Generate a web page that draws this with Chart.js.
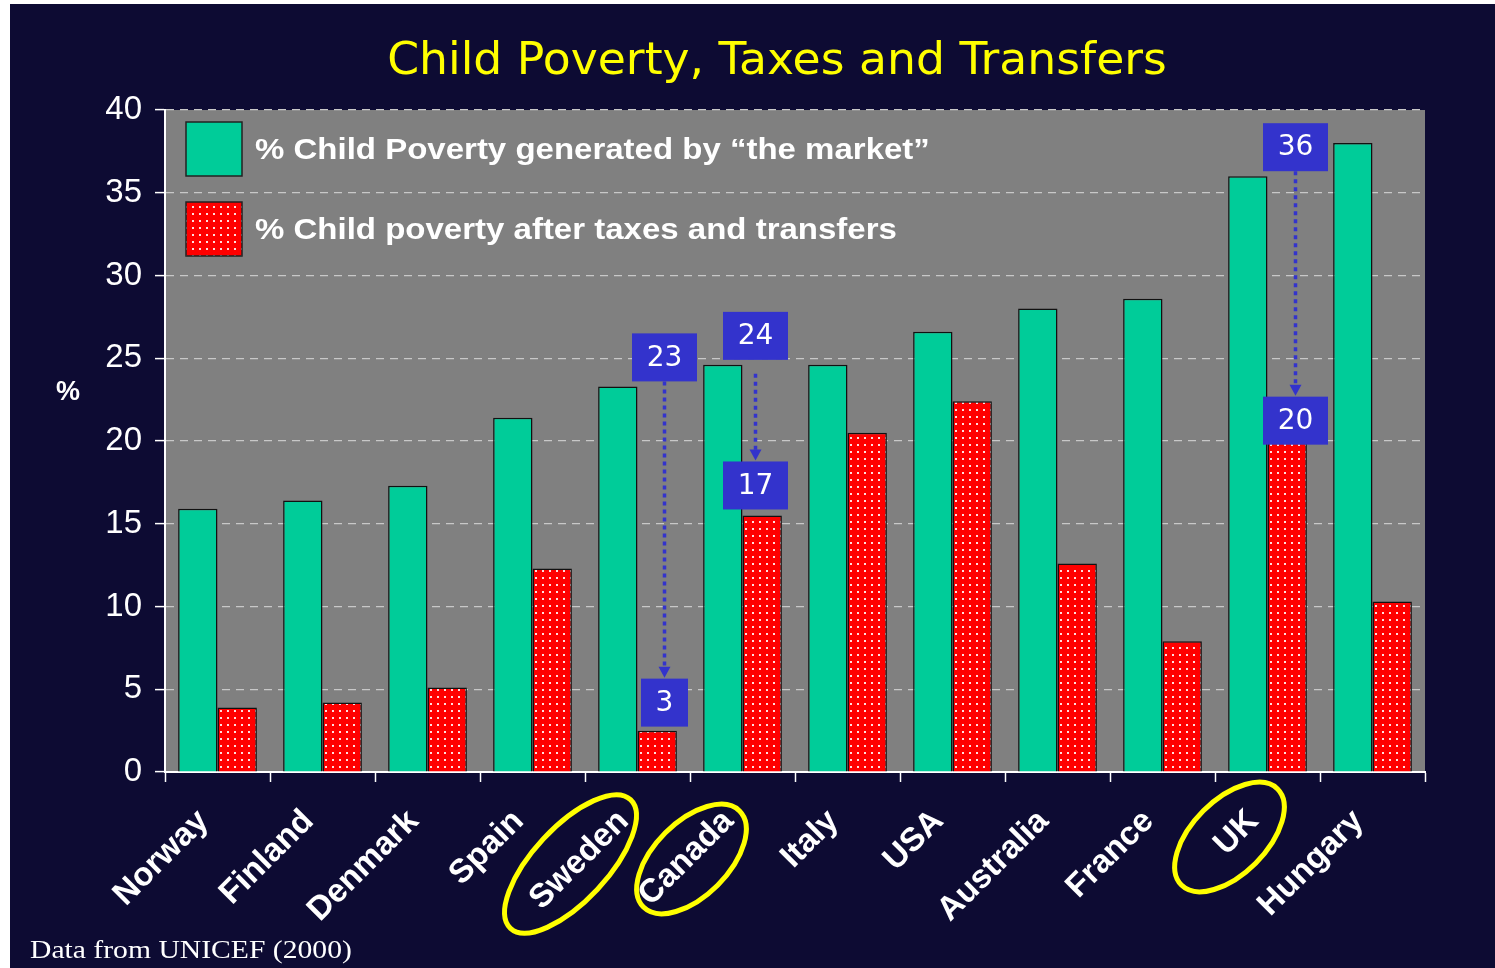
<!DOCTYPE html>
<html>
<head>
<meta charset="utf-8">
<script src="https://cdn.jsdelivr.net/npm/chart.js@4.4.0/dist/chart.umd.min.js"></script>
<style>
  html, body { margin: 0; padding: 0; background: #fff; }
</style>
</head>
<body>
<canvas id="povertyChart" width="1495" height="968"></canvas>
<script>
const countries = ['Norway', 'Finland', 'Denmark', 'Spain', 'Sweden', 'Canada', 'Italy', 'USA', 'Australia', 'France', 'UK', 'Hungary'];
const marketPoverty = [15.9, 16.4, 17.3, 21.4, 23.3, 24.6, 24.6, 26.6, 28.0, 28.6, 36.0, 38.0];
const afterTaxPoverty = [3.9, 4.2, 5.1, 12.3, 2.5, 15.5, 20.5, 22.4, 12.6, 7.9, 19.9, 10.3];
const yTicks = [0, 5, 10, 15, 20, 25, 30, 35, 40];

// blue callouts (before -> after) and circled names
const calloutCountries = ['Sweden', 'Canada', 'UK'];
const calloutBefore = ['23', '24', '36'];
const calloutAfter = ['3', '17', '20'];
const circledCountries = ['Sweden', 'Canada', 'UK'];

const BG = '#0d0b33';
const GREEN = '#00cc99';
const BLUE = '#3333cc';
const STRETCH = 1.14; // slide text is a bit wider than the fonts we have

// red fill with little white dots
function dottedRed() {
    const c = document.createElement('canvas');
    c.width = 7;
    c.height = 7;
    const g = c.getContext('2d');
    g.fillStyle = '#ff0000';
    g.fillRect(0, 0, 7, 7);
    g.fillStyle = 'rgba(255,235,235,0.95)';
    g.fillRect(3, 3, 2, 2);
    return g.createPattern(c, 'repeat');
}
const redPattern = dottedRed();

function wideText(ctx, txt, x, y, sx) {
    ctx.save();
    ctx.translate(x, y);
    ctx.scale(sx, 1);
    ctx.fillText(txt, 0, 0);
    ctx.restore();
}

const backdrop = {
    id: 'backdrop',
    beforeDraw(chart) {
        const { ctx, chartArea: a } = chart;
        ctx.save();
        ctx.fillStyle = '#fff';
        ctx.fillRect(0, 0, chart.width, chart.height);
        ctx.fillStyle = BG;
        ctx.fillRect(10, 4, chart.width - 10, chart.height - 4);
        ctx.fillStyle = '#808080';
        ctx.fillRect(a.left, a.top, a.right - a.left, a.bottom - a.top);

        ctx.fillStyle = '#ffff00';
        ctx.font = '44px "DejaVu Sans"';
        ctx.textAlign = 'center';
        ctx.textBaseline = 'middle';
        wideText(ctx, 'Child Poverty, Taxes and Transfers', 777, 63, 1.038);

        ctx.fillStyle = '#fff';
        ctx.font = 'bold 27px "Liberation Sans"';
        ctx.fillText('%', 68, 393);

        ctx.font = '26px "Liberation Serif"';
        ctx.textAlign = 'left';
        ctx.textBaseline = 'alphabetic';
        wideText(ctx, 'Data from UNICEF (2000)', 30, 958, STRETCH);
        ctx.restore();
    }
};

const boxLegend = {
    id: 'boxLegend',
    afterDraw(chart) {
        const { ctx, chartArea: a } = chart;
        ctx.save();
        chart.data.datasets.forEach((ds, i) => {
            const x = a.left + 21, y = a.top + 12 + i * 80;
            ctx.fillStyle = ds.backgroundColor;
            ctx.fillRect(x, y, 56, 54);
            ctx.strokeStyle = '#222';
            ctx.lineWidth = 1.5;
            ctx.strokeRect(x, y, 56, 54);
            ctx.fillStyle = '#fff';
            ctx.font = 'bold 30px "Liberation Sans"';
            ctx.textAlign = 'left';
            ctx.textBaseline = 'middle';
            wideText(ctx, ds.label, x + 69, y + 29, 1.10);
        });
        ctx.restore();
    }
};

const callouts = {
    id: 'callouts',
    afterDatasetsDraw(chart) {
        const { ctx } = chart;
        const xs = chart.scales.x, ys = chart.scales.y;
        const dx = { Sweden: 27, Canada: 13, UK: 28 };
        const gap = { Sweden: 0, Canada: 14, UK: 0 };
        const lift = { Sweden: 4, Canada: 6, UK: -2 };
        ctx.save();
        calloutCountries.forEach((name, k) => {
            const i = countries.indexOf(name);
            const cx = xs.getPixelForValue(i) + dx[name];
            const topBottom = ys.getPixelForValue(marketPoverty[i]) - 5;
            const lowBottom = ys.getPixelForValue(afterTaxPoverty[i]) - lift[name];
            const h = 48;
            const box = (txt, bottom) => {
                const w = txt.length > 1 ? 65 : 47;
                ctx.fillStyle = BLUE;
                ctx.fillRect(cx - w / 2, bottom - h, w, h);
                ctx.fillStyle = '#fff';
                ctx.font = '28px "DejaVu Sans"';
                ctx.textAlign = 'center';
                ctx.textBaseline = 'middle';
                ctx.fillText(txt, cx, bottom - h / 2 + 1);
            };
            // dotted arrow
            const y0 = topBottom + gap[name];
            const tip = lowBottom - h - 1;
            ctx.strokeStyle = BLUE;
            ctx.lineWidth = 3.5;
            ctx.setLineDash([4, 4]);
            ctx.beginPath();
            ctx.moveTo(cx, y0);
            ctx.lineTo(cx, tip - 10);
            ctx.stroke();
            ctx.setLineDash([]);
            ctx.fillStyle = BLUE;
            ctx.beginPath();
            ctx.moveTo(cx - 6, tip - 11);
            ctx.lineTo(cx + 6, tip - 11);
            ctx.lineTo(cx, tip);
            ctx.closePath();
            ctx.fill();

            box(calloutBefore[k], topBottom);
            box(calloutAfter[k], lowBottom);
        });
        ctx.restore();
    }
};

const rings = {
    id: 'rings',
    afterDraw(chart) {
        const { ctx, chartArea: a } = chart;
        const xs = chart.scales.x;
        const spec = {
            Sweden: { dx: -67, dy: 92, rx: 88, ry: 37, rot: 47 },
            Canada: { dx: -51, dy: 87, rx: 68, ry: 37, rot: 45 },
            UK: { dx: -38, dy: 65, rx: 68, ry: 37, rot: 45 }
        };
        ctx.save();
        ctx.strokeStyle = '#ffff00';
        ctx.lineWidth = 5;
        circledCountries.forEach(name => {
            const s = spec[name];
            const cx = xs.getPixelForValue(countries.indexOf(name)) + s.dx;
            ctx.beginPath();
            ctx.ellipse(cx, a.bottom + s.dy, s.rx, s.ry, -s.rot * Math.PI / 180, 0, Math.PI * 2);
            ctx.stroke();
        });
        ctx.restore();
    }
};

new Chart(document.getElementById('povertyChart'), {
    type: 'bar',
    data: {
        labels: countries,
        datasets: [
            {
                label: '% Child Poverty generated by \u201cthe market\u201d',
                data: marketPoverty,
                backgroundColor: GREEN,
                borderColor: '#111',
                borderWidth: 1.5
            },
            {
                label: '% Child poverty after taxes and transfers',
                data: afterTaxPoverty,
                backgroundColor: redPattern,
                borderColor: '#111',
                borderWidth: 1.5
            }
        ]
    },
    options: {
        responsive: false,
        animation: false,
        layout: {
            padding: { left: 0, right: 70, top: 110, bottom: 0 }
        },
        datasets: {
            bar: { barPercentage: 1.0, categoryPercentage: 0.75 }
        },
        plugins: {
            legend: { display: false },
            title: { display: false },
            tooltip: { enabled: false }
        },
        scales: {
            x: {
                afterFit: s => { s.height = 196; },
                grid: {
                    offset: true,
                    drawOnChartArea: false,
                    tickColor: '#fff',
                    tickLength: 10,
                    tickWidth: 1.5
                },
                border: { color: '#fff', width: 2 },
                ticks: {
                    color: '#fff',
                    font: { family: '"Liberation Sans"', size: 33, weight: 'bold' },
                    minRotation: 45,
                    maxRotation: 45,
                    autoSkip: false,
                    labelOffset: -14,
                    padding: 20
                }
            },
            y: {
                min: 0,
                max: 40,
                afterFit: s => { s.width = 165; },
                afterBuildTicks: s => { s.ticks = yTicks.map(v => ({ value: v })); },
                grid: {
                    color: '#c8c8c8',
                    lineWidth: 1.2,
                    tickColor: '#fff',
                    tickLength: 10,
                    tickWidth: 1.5,
                    tickBorderDash: [0, 0]
                },
                border: { color: '#fff', width: 2, dash: [8, 6] },
                ticks: {
                    color: '#fff',
                    font: { family: '"Liberation Sans"', size: 33 },
                    padding: 13
                }
            }
        }
    },
    plugins: [backdrop, callouts, boxLegend, rings]
});
</script>
</body>
</html>
